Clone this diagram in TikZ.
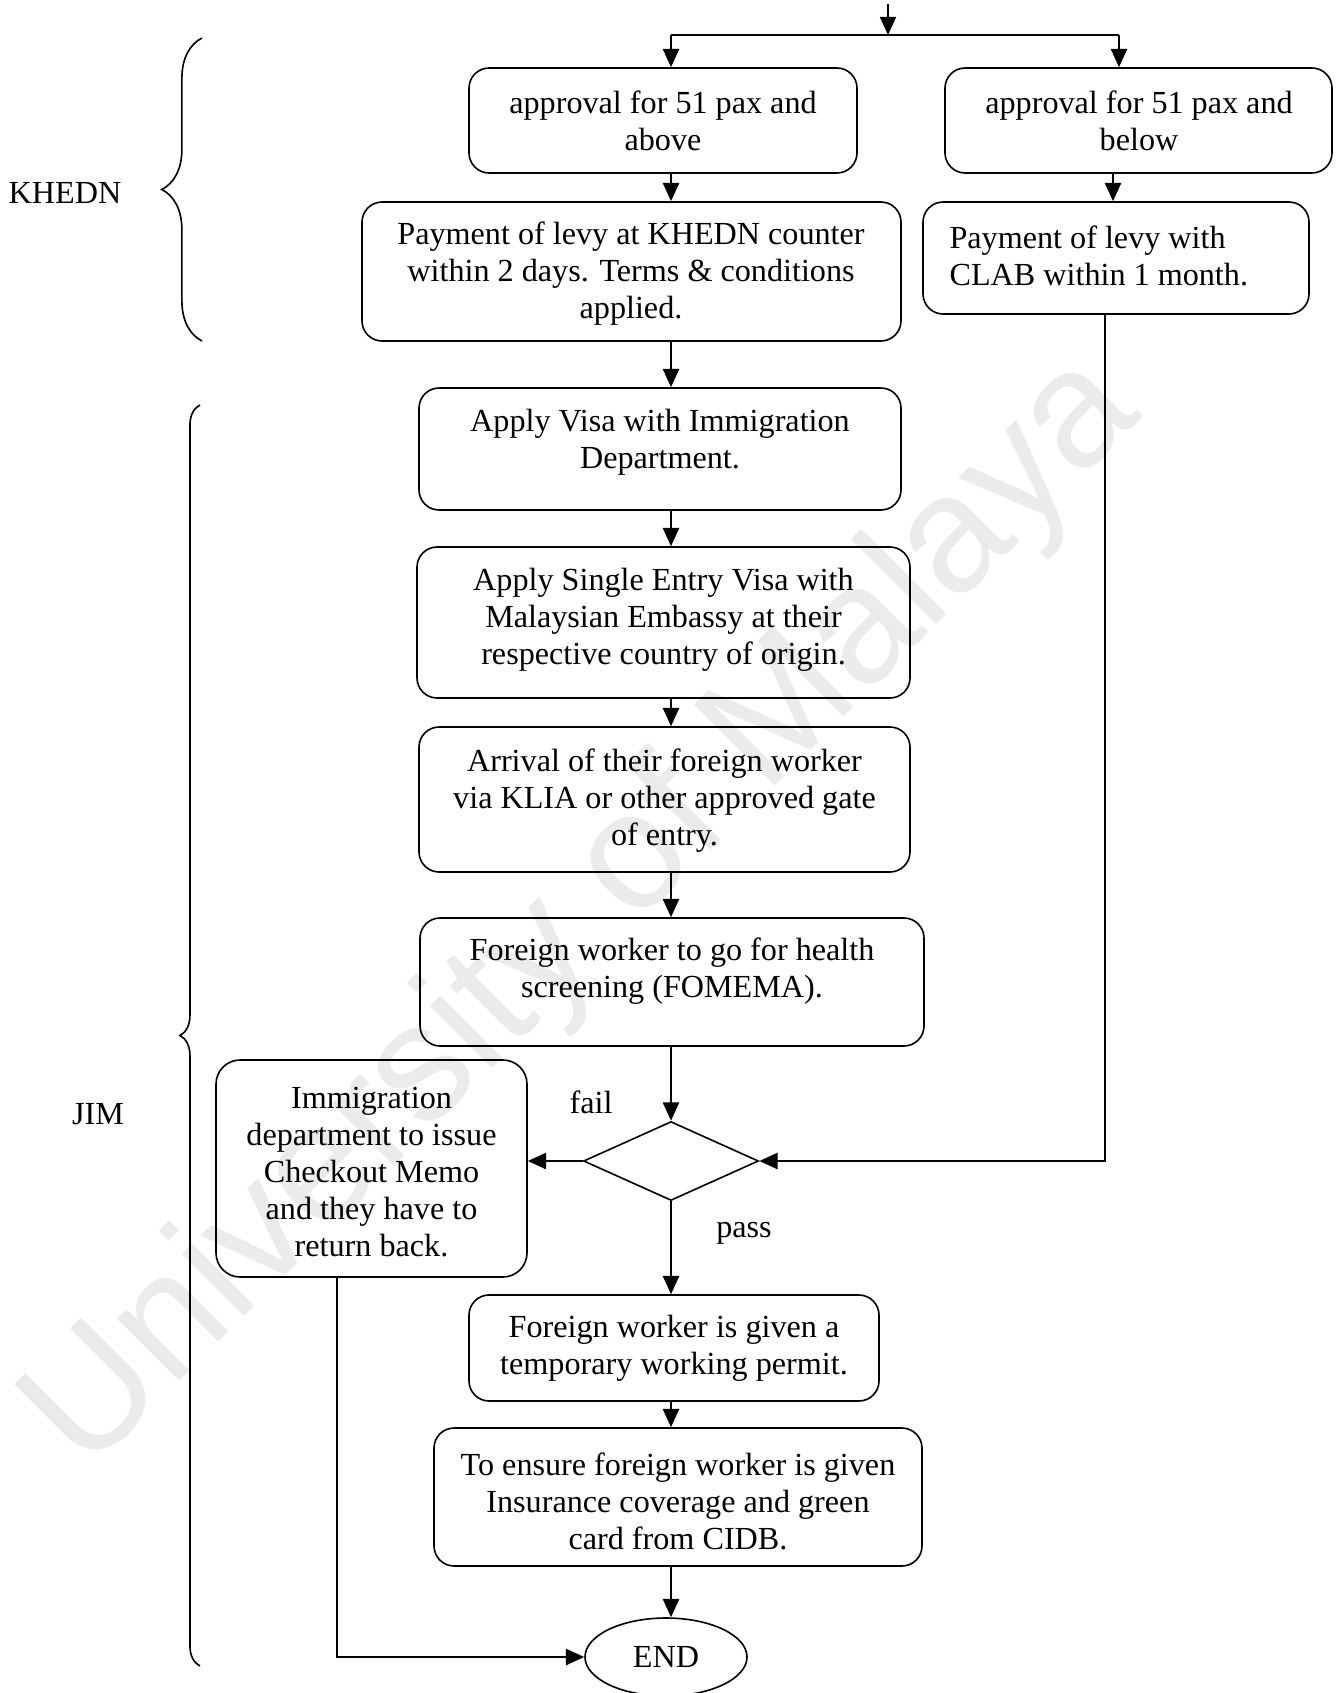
\documentclass[tikz,border=0pt]{standalone}
\usepackage{fontspec}
\setmainfont{Liberation Serif}
\newfontfamily\wmfont{Liberation Sans}
\usetikzlibrary{arrows.meta,shapes.geometric,decorations.pathreplacing}
\newcommand\pxu{0.373pt}

\begin{document}
\begin{tikzpicture}[x=0.373pt,y=-0.373pt,
  box/.style={draw, line width=0.6pt, rounded corners=7.5pt, inner sep=0pt},
  txt/.style={align=center, inner sep=0pt, font=\fontsize{12}{13.8}\selectfont},
  arr/.style={line width=0.8pt, -{Triangle[length=6.8pt,width=6pt]}},
  ln/.style={line width=0.8pt},
  brc/.style={decorate, line width=0.6pt},
]
\useasboundingbox (0,0) rectangle (1337,1693);

% faint background watermark
\node[rotate=45, text=black!8, font=\wmfont\fontsize{62}{66}\selectfont, inner sep=0pt]
  (wm) at (585,915) {University of Malaya};

% --- boxes ---
\node[box, minimum width=388*\pxu, minimum height=105*\pxu] (A1) at (663,120.5) {};
\node[txt] (A1t) at (663,121) {approval for 51 pax and\\above};

\node[box, minimum width=387*\pxu, minimum height=105*\pxu] (B1) at (1138.5,120.5) {};
\node[txt] (B1t) at (1139,121) {approval for 51 pax and\\below};

\node[box, minimum width=539*\pxu, minimum height=139*\pxu] (A2) at (631.5,271.5) {};
\node[txt] (A2t) at (631,274) {Payment of levy at KHEDN counter\\within 2 days. Terms \& conditions\\applied.};

\node[box, minimum width=386*\pxu, minimum height=112*\pxu] (B2) at (1116,258) {};
\node[txt, align=left, anchor=west] (B2t) at (949,256) {Payment of levy with\\CLAB within 1 month.};

\node[box, minimum width=482*\pxu, minimum height=122*\pxu] (V1) at (660,449) {};
\node[txt] (V1t) at (660,442) {Apply Visa with Immigration\\Department.};

\node[box, minimum width=493*\pxu, minimum height=151*\pxu] (V2) at (663.5,622.5) {};
\node[txt] (V2t) at (663.5,620) {Apply Single Entry Visa with\\Malaysian Embassy at their\\respective country of origin.};

\node[box, minimum width=491*\pxu, minimum height=145*\pxu] (V3) at (664.5,799.5) {};
\node[txt] (V3t) at (664.5,801) {Arrival of their foreign worker\\via KLIA or other approved gate\\of entry.};

\node[box, minimum width=504*\pxu, minimum height=128*\pxu] (V4) at (672,982) {};
\node[txt] (V4t) at (672,971) {Foreign worker to go for health\\screening (FOMEMA).};

\node[draw, diamond, line width=0.6pt, minimum width=175*\pxu, minimum height=79*\pxu, inner sep=0pt] (D) at (671,1161) {};

\node[box, rounded corners=9pt, minimum width=311*\pxu, minimum height=217*\pxu] (IMM) at (371.5,1168.5) {};
\node[txt] (IMMt) at (371.5,1172) {Immigration\\department to issue\\Checkout Memo\\and they have to\\return back.};

\node[box, minimum width=410*\pxu, minimum height=106*\pxu] (P1) at (674,1348) {};
\node[txt] (P1t) at (674,1348) {Foreign worker is given a\\temporary working permit.};

\node[box, minimum width=488*\pxu, minimum height=138*\pxu] (P2) at (678,1497) {};
\node[txt] (P2t) at (678,1501) {To ensure foreign worker is given\\Insurance coverage and green\\card from CIDB.};

\node[draw, ellipse, line width=0.6pt, minimum width=162*\pxu, minimum height=78*\pxu, inner sep=0pt,
  font=\fontsize{12}{13.8}\selectfont] (END) at (666,1657) {END};

% --- labels ---
\node[txt] (fail) at (591,1102) {fail};
\node[txt] (pass) at (744,1233) {pass};
\node[txt] (khedn) at (65,193) {KHEDN};
\node[txt] (jim) at (98,1114) {JIM};

% --- braces ---
\coordinate (kB) at (202,341);
\coordinate (kT) at (202,38);
\coordinate (jB) at (200,1666);
\coordinate (jT) at (200,405);
\draw[brc, decoration={brace, amplitude=15pt, aspect=0.5}] (kB) -- (kT);
\draw[brc, decoration={brace, amplitude=7.5pt, aspect=0.5}] (jB) -- (jT);

% --- connectors ---
\coordinate (top) at (888,4);
\coordinate (split) at (888,35);
\coordinate (jL) at (671,35);
\coordinate (jR) at (1119,35);
\coordinate (cM) at (671,0);
\coordinate (cB) at (1113,0);
\coordinate (cR) at (1105,0);
\coordinate (cI) at (337,0);

\draw[arr] (top) -- (split);
\draw[ln] (jL) -- (jR);
\draw[arr] (jL) -- (jL |- A1.north);
\draw[arr] (jR) -- (jR |- B1.north);
\draw[arr] (cM |- A1.south) -- (cM |- A2.north);
\draw[arr] (cB |- B1.south) -- (cB |- B2.north);
\draw[arr] (cM |- A2.south) -- (cM |- V1.north);
\draw[arr] (cM |- V1.south) -- (cM |- V2.north);
\draw[arr] (cM |- V2.south) -- (cM |- V3.north);
\draw[arr] (cM |- V3.south) -- (cM |- V4.north);
\draw[arr] (cM |- V4.south) -- (D.north);
\draw[arr] (cR |- B2.south) |- (D.east);
\draw[arr] (D.west) -- (D.west -| IMM.east);
\draw[arr] (D.south) -- (cM |- P1.north);
\draw[arr] (cM |- P1.south) -- (cM |- P2.north);
\draw[arr] (cM |- P2.south) -- (cM |- END.north);
\draw[arr] (cI |- IMM.south) |- (END.west);
\end{tikzpicture}
\end{document}
